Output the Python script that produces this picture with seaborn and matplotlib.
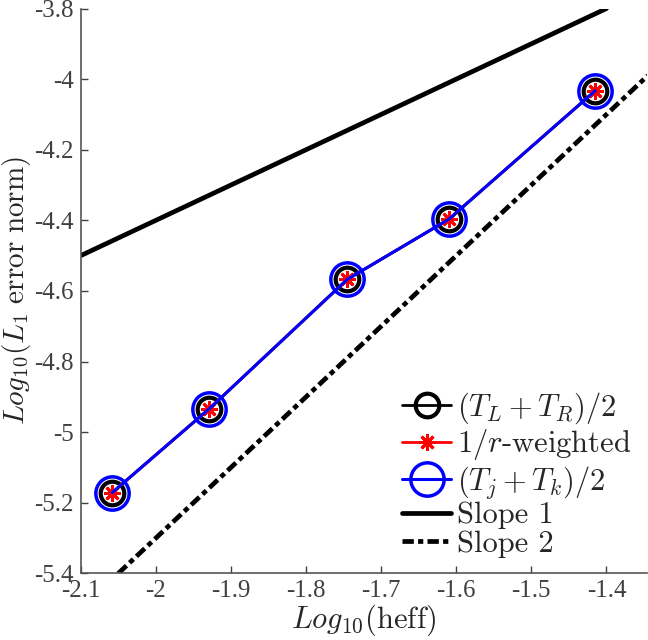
import matplotlib
matplotlib.use("Agg")
import matplotlib.pyplot as plt
import seaborn as sns

# convergence data (log10 values)
log_heff = [-2.058, -1.9285, -1.745, -1.610, -1.415]
err_lr = [-5.171, -4.933, -4.567, -4.397, -4.033]
err_rweighted = [-5.171, -4.933, -4.567, -4.397, -4.033]
err_jk = [-5.171, -4.933, -4.567, -4.397, -4.033]

# reference slope lines
slope1_x = [-2.1, -1.4]
slope1_y = [-4.5, -3.8]
slope2_x = [-2.05, -1.345]
slope2_y = [-5.4, -3.99]

x_ticks = [-2.1, -2.0, -1.9, -1.8, -1.7, -1.6, -1.5, -1.4]
x_tick_labels = ["-2.1", "-2", "-1.9", "-1.8", "-1.7", "-1.6", "-1.5", "-1.4"]
y_ticks = [-5.4, -5.2, -5.0, -4.8, -4.6, -4.4, -4.2, -4.0, -3.8]
y_tick_labels = ["-5.4", "-5.2", "-5", "-4.8", "-4.6", "-4.4", "-4.2", "-4", "-3.8"]

sns.set_style("ticks")
plt.rcParams['font.family'] = ['Liberation Serif', 'DejaVu Serif']
plt.rcParams['mathtext.fontset'] = 'cm'
plt.rcParams['xtick.direction'] = 'in'
plt.rcParams['ytick.direction'] = 'in'

fig = plt.figure(figsize=(6.48, 6.4), dpi=100)
ax = fig.add_axes([0.1245, 0.104, 0.874, 0.8827])

sns.lineplot(x=log_heff, y=err_lr, ax=ax, color='black', linewidth=2, marker='o',
             markersize=17, markerfacecolor='none', markeredgecolor='black', markeredgewidth=3,
             label=r'$(T_L+T_R)/2$')
sns.lineplot(x=log_heff, y=err_rweighted, ax=ax, color='red', linewidth=2, marker=(8, 2, 0),
             markersize=12, markeredgecolor='red', markeredgewidth=2,
             label=r'1/$r$-weighted')
sns.lineplot(x=log_heff, y=err_jk, ax=ax, color='#0000ff', linewidth=2.2, marker='o',
             markersize=24, markerfacecolor='none', markeredgecolor='#0000ff', markeredgewidth=2.5,
             label=r'$(T_j+T_k)/2$')
sns.lineplot(x=slope1_x, y=slope1_y, ax=ax, color='black', linewidth=3.4, label='Slope 1')
sns.lineplot(x=slope2_x, y=slope2_y, ax=ax, color='black', linewidth=3.4,
             linestyle=(0, (2.4, 0.9, 1.1, 0.9)), label='Slope 2')

ax.set_xlim(-2.1, -1.346)
ax.set_ylim(-5.4, -3.8)
ax.set_xticks(x_ticks)
ax.set_xticklabels(x_tick_labels)
ax.set_yticks(y_ticks)
ax.set_yticklabels(y_tick_labels)
ax.tick_params(labelsize=18, colors='#404040', length=5, width=1, pad=5)
for side in ['left', 'bottom']:
    ax.spines[side].set_color('#555555')
    ax.spines[side].set_linewidth(1.2)
sns.despine(ax=ax)

ax.set_xlabel(r'$Log_{10}(\mathrm{heff})$', fontsize=22, color='#262626', labelpad=0)
ax.set_ylabel(r'$Log_{10}(L_1\ \mathrm{error\ norm})$', fontsize=21, color='#262626', labelpad=1)

leg = ax.legend(loc='lower right', frameon=False, prop={'family': 'cmr10', 'size': 22},
                handlelength=1.6, handletextpad=0.2, labelspacing=0.04, borderaxespad=0.1,
                bbox_to_anchor=(1.0, 0.0))

plt.savefig('out.png', dpi=100)
